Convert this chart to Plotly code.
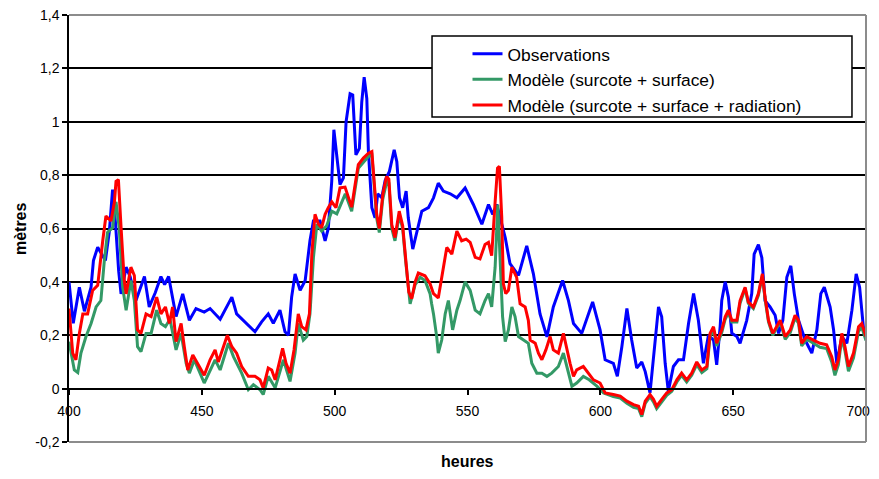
import plotly.graph_objects as go

# Observations (heures, metres)
obs_h = [400.0, 401.6, 403.9, 405.8, 408.3, 409.2, 410.8, 413.7, 415.2, 416.4, 417.5, 418.7, 419.6,
         420.5, 421.5, 423.0, 425.2, 428.4, 430.2, 432.5, 434.6, 436.0, 437.5, 440.3, 442.8, 445.3,
         447.8, 450.9, 453.1, 456.9, 461.3, 463.1, 465.6, 470.0, 472.5, 475.0, 476.9, 479.4, 481.3,
         482.6, 483.8, 485.1, 487.0, 488.9, 490.7, 492.0, 494.5, 496.4, 497.6, 498.9, 499.7, 501.2,
         502.0, 503.3, 504.3, 505.8, 506.8, 508.0, 509.3, 510.2, 511.1, 512.1, 512.7, 514.0, 515.2,
         516.2, 517.7, 519.0, 520.6, 522.4, 523.4, 524.4, 525.6, 526.9, 527.7, 529.4, 530.9, 532.8,
         535.3, 537.2, 539.0, 540.9, 543.5, 546.0, 549.1, 552.2, 555.4, 557.9, 559.5, 561.0, 562.3,
         564.2, 566.0, 569.2, 572.3, 574.8, 577.3, 579.9, 582.3, 585.8, 588.0, 589.9, 593.0, 597.1,
         599.9, 601.8, 604.9, 606.4, 608.1, 610.0, 611.8, 613.7, 615.6, 616.9, 618.7, 620.0, 621.9,
         623.1, 624.4, 625.6, 627.5, 629.4, 631.3, 633.2, 635.1, 636.9, 638.8, 640.7, 642.6, 643.8,
         645.1, 645.7, 647.0, 648.2, 649.5, 651.4, 652.6, 655.1, 657.0, 657.9, 659.5, 660.8, 662.0,
         663.9, 665.8, 667.1, 668.7, 670.2, 671.7, 673.0, 674.6, 677.1, 679.6, 681.5, 683.0, 684.3,
         686.5, 687.8, 689.0, 690.9, 692.8, 694.7, 696.3, 697.6, 699.1, 700.0]
obs_v = [0.40, 0.245, 0.38, 0.29, 0.38, 0.48, 0.53, 0.48, 0.59, 0.746, 0.62, 0.44, 0.355,
         0.40, 0.455, 0.42, 0.33, 0.42, 0.306, 0.36, 0.42, 0.39, 0.42, 0.27, 0.355, 0.256,
         0.30, 0.287, 0.30, 0.26, 0.343, 0.28, 0.256, 0.213, 0.25, 0.28, 0.245, 0.294, 0.213,
         0.20, 0.343, 0.43, 0.368, 0.405, 0.554, 0.628, 0.628, 0.554, 0.60, 0.777, 0.97, 0.84,
         0.765, 0.79, 1.0, 1.105, 1.10, 0.876, 0.90, 1.074, 1.167, 1.087, 0.888, 0.678, 0.64,
         0.73, 0.715, 0.78, 0.814, 0.895, 0.85, 0.715, 0.678, 0.74, 0.64, 0.523, 0.59, 0.665,
         0.678, 0.715, 0.77, 0.74, 0.73, 0.715, 0.752, 0.69, 0.616, 0.69, 0.653, 0.69, 0.64,
         0.566, 0.468, 0.424, 0.535, 0.43, 0.28, 0.194, 0.306, 0.405, 0.33, 0.244, 0.207, 0.325,
         0.22, 0.108, 0.095, 0.046, 0.157, 0.30, 0.182, 0.077, 0.10, 0.064, -0.016, 0.12, 0.306,
         0.269, 0.095, -0.01, 0.083, 0.108, 0.108, 0.244, 0.356, 0.256, 0.095, 0.20, 0.182, 0.089,
         0.232, 0.33, 0.40, 0.343, 0.207, 0.195, 0.17, 0.256, 0.356, 0.504, 0.54, 0.49, 0.33,
         0.306, 0.275, 0.207, 0.256, 0.417, 0.46, 0.356, 0.256, 0.182, 0.133, 0.22, 0.356, 0.38,
         0.306, 0.22, 0.095, 0.195, 0.17, 0.294, 0.43, 0.38, 0.22, 0.21]

# Modele (surcote + surface)
surf_h = [400.0, 402.0, 403.3, 404.5, 406.4, 408.3, 410.2, 412.0, 413.3, 414.5, 416.4, 417.7, 418.9,
          420.2, 421.5, 423.3, 424.6, 425.8, 427.1, 429.0, 430.9, 433.0, 434.6, 436.3, 438.0, 440.3,
          442.2, 444.1, 445.3, 447.2, 448.8, 450.9, 455.0, 456.9, 460.0, 461.9, 465.0, 467.5, 469.4,
          471.9, 473.1, 475.0, 477.6, 479.4, 480.7, 483.2, 485.1, 486.3, 488.2, 489.5, 490.7, 492.0,
          493.3, 495.1, 497.0, 498.9, 500.8, 504.0, 506.4, 508.9, 510.8, 512.7, 514.0, 514.8, 515.8,
          516.8, 518.1, 519.7, 520.4, 521.5, 522.7, 524.3, 525.6, 526.7, 528.4, 530.3, 532.2, 534.0,
          535.9, 536.5, 537.2, 538.4, 539.0, 540.3, 541.6, 542.8, 544.4, 546.0, 547.2, 549.1, 551.0,
          552.9, 554.7, 556.6, 557.9, 559.1, 560.4, 561.4, 562.3, 563.2, 564.2, 565.4, 566.7, 567.9,
          569.2, 571.1, 572.9, 574.2, 576.1, 578.0, 579.9, 581.7, 584.2, 586.1, 587.4, 589.3, 591.1,
          593.6, 595.8, 598.7, 601.2, 604.9, 607.5, 610.0, 612.5, 614.4, 615.6, 616.9, 618.7, 620.0,
          621.2, 623.1, 625.0, 626.9, 628.8, 630.6, 632.5, 634.4, 636.3, 638.2, 640.1, 641.3, 642.6,
          643.8, 645.7, 647.0, 648.2, 649.5, 651.4, 652.6, 654.5, 655.7, 657.6, 659.5, 661.0, 662.0,
          663.3, 664.9, 666.4, 667.7, 669.6, 671.5, 673.3, 674.6, 675.8, 677.7, 680.2, 682.7, 685.2,
          687.1, 688.3, 689.6, 690.9, 692.1, 693.4, 695.3, 697.2, 698.4, 700.0]
surf_v = [0.176, 0.07, 0.06, 0.133, 0.195, 0.244, 0.306, 0.33, 0.48, 0.585, 0.603, 0.70, 0.603,
          0.38, 0.294, 0.405, 0.33, 0.157, 0.139, 0.207, 0.207, 0.294, 0.244, 0.232, 0.26, 0.145,
          0.207, 0.095, 0.058, 0.108, 0.07, 0.021, 0.108, 0.07, 0.17, 0.12, 0.058, -0.004, 0.015,
          -0.004, -0.022, 0.046, 0.003, 0.07, 0.108, 0.027, 0.133, 0.244, 0.182, 0.195, 0.28, 0.49,
          0.616, 0.59, 0.61, 0.665, 0.655, 0.73, 0.665, 0.826, 0.85, 0.87, 0.876, 0.78, 0.64,
          0.585, 0.71, 0.78, 0.77, 0.60, 0.554, 0.65, 0.60, 0.48, 0.318, 0.39, 0.417, 0.405,
          0.356, 0.318, 0.28, 0.195, 0.133, 0.182, 0.28, 0.33, 0.22, 0.294, 0.33, 0.40, 0.368,
          0.294, 0.28, 0.33, 0.356, 0.306, 0.455, 0.69, 0.455, 0.27, 0.176, 0.22, 0.306, 0.27,
          0.195, 0.182, 0.17, 0.095, 0.058, 0.058, 0.046, 0.058, 0.083, 0.133, 0.083, 0.009, 0.021,
          0.046, 0.033, 0.009, -0.016, -0.03, -0.035, -0.055, -0.07, -0.075, -0.105, -0.055, -0.03, -0.05,
          -0.075, -0.05, -0.025, -0.01, 0.025, 0.05, 0.025, 0.05, 0.09, 0.06, 0.075, 0.195, 0.22,
          0.16, 0.21, 0.26, 0.285, 0.25, 0.25, 0.32, 0.375, 0.32, 0.30, 0.35, 0.425, 0.335,
          0.25, 0.20, 0.225, 0.25, 0.185, 0.21, 0.265, 0.245, 0.16, 0.185, 0.17, 0.155, 0.15,
          0.10, 0.05, 0.09, 0.19, 0.14, 0.065, 0.115, 0.215, 0.23, 0.18]

# Modele (surcote + surface + radiation)
rad_h = [400.0, 401.4, 402.6, 403.9, 405.2, 407.0, 408.9, 410.8, 412.7, 413.9, 415.8, 417.1, 417.7,
         418.6, 419.6, 420.8, 421.5, 423.3, 424.6, 425.8, 427.1, 429.0, 430.9, 433.0, 434.6, 436.3,
         437.8, 439.0, 440.3, 442.2, 443.4, 444.7, 446.6, 448.4, 450.9, 453.1, 455.0, 456.2, 458.1,
         459.6, 461.3, 463.1, 465.0, 467.5, 470.0, 471.9, 473.1, 475.0, 476.3, 477.6, 479.4, 480.4,
         481.7, 483.2, 484.7, 486.3, 487.6, 489.2, 490.5, 491.4, 492.6, 493.9, 495.1, 496.4, 497.6,
         498.9, 500.5, 502.0, 503.9, 505.1, 506.4, 507.7, 508.9, 510.8, 512.7, 514.0, 514.8, 515.8,
         516.8, 518.1, 519.5, 520.4, 521.5, 522.7, 524.3, 525.6, 526.7, 527.9, 529.0, 530.3, 531.5,
         534.0, 535.9, 537.2, 539.0, 540.9, 542.2, 544.1, 546.0, 547.8, 549.5, 551.0, 552.9, 554.7,
         556.6, 557.9, 559.1, 560.4, 561.3, 562.0, 562.9, 563.5, 564.4, 565.4, 566.7, 568.5, 569.8,
         571.7, 572.9, 573.6, 575.5, 576.7, 578.0, 579.5, 581.1, 582.3, 584.2, 586.1, 587.4, 588.6,
         589.9, 591.1, 593.6, 595.5, 597.4, 599.9, 601.8, 604.9, 607.5, 610.0, 612.5, 614.4, 615.6,
         616.9, 618.7, 620.0, 621.2, 623.1, 625.0, 626.9, 628.8, 630.6, 632.5, 634.4, 636.3, 638.2,
         640.1, 641.3, 642.6, 643.8, 645.7, 647.0, 648.2, 649.5, 651.4, 652.6, 654.5, 655.7, 657.6,
         659.5, 661.0, 662.0, 663.3, 664.9, 666.4, 667.7, 669.6, 671.5, 673.3, 674.6, 675.8, 677.7,
         680.2, 682.7, 685.2, 687.1, 688.3, 689.6, 690.9, 692.1, 693.4, 695.3, 697.2, 698.4, 700.0]
rad_v = [0.30, 0.133, 0.108, 0.207, 0.28, 0.28, 0.368, 0.387, 0.554, 0.647, 0.628, 0.70, 0.777,
         0.783, 0.603, 0.405, 0.355, 0.455, 0.424, 0.22, 0.207, 0.28, 0.27, 0.343, 0.28, 0.306,
         0.244, 0.306, 0.176, 0.244, 0.157, 0.07, 0.126, 0.095, 0.05, 0.108, 0.145, 0.10, 0.157,
         0.20, 0.157, 0.133, 0.083, 0.046, 0.046, 0.033, 0.003, 0.077, 0.07, 0.033, 0.108, 0.151,
         0.095, 0.058, 0.145, 0.28, 0.232, 0.22, 0.28, 0.504, 0.653, 0.616, 0.603, 0.653, 0.678,
         0.70, 0.678, 0.752, 0.755, 0.715, 0.68, 0.765, 0.839, 0.864, 0.882, 0.888, 0.79, 0.655,
         0.60, 0.727, 0.795, 0.785, 0.615, 0.566, 0.665, 0.61, 0.49, 0.362, 0.337, 0.40, 0.433,
         0.423, 0.393, 0.356, 0.34, 0.455, 0.529, 0.504, 0.59, 0.554, 0.56, 0.548, 0.492, 0.486,
         0.54, 0.548, 0.498, 0.70, 0.826, 0.833, 0.64, 0.393, 0.356, 0.368, 0.455, 0.417, 0.318,
         0.306, 0.256, 0.182, 0.17, 0.133, 0.108, 0.145, 0.195, 0.145, 0.133, 0.207, 0.145, 0.095,
         0.046, 0.07, 0.083, 0.058, 0.033, 0.021, -0.016, -0.022, -0.028, -0.047, -0.06, -0.066, -0.097,
         -0.047, -0.022, -0.04, -0.066, -0.04, -0.016, -0.004, 0.033, 0.058, 0.033, 0.058, 0.10, 0.07,
         0.083, 0.207, 0.232, 0.17, 0.22, 0.269, 0.294, 0.256, 0.256, 0.33, 0.38, 0.325, 0.306,
         0.356, 0.43, 0.343, 0.256, 0.207, 0.232, 0.256, 0.195, 0.22, 0.275, 0.256, 0.17, 0.195,
         0.182, 0.17, 0.164, 0.12, 0.07, 0.108, 0.207, 0.157, 0.083, 0.133, 0.232, 0.244, 0.195]

# axis ticks
y_ticks = [-0.2, 0, 0.2, 0.4, 0.6, 0.8, 1, 1.2, 1.4]
y_labels = ["-0,2", "0", "0,2", "0,4", "0,6", "0,8", "1", "1,2", "1,4"]
x_ticks = [400, 450, 500, 550, 600, 650, 700]
# last label padded so it is not cut at the right edge of the page
x_labels = ["400", "450", "500", "550", "600", "650", "700\u00a0\u00a0\u00a0\u00a0"]

font = "Liberation Sans, Arial, sans-serif"

fig = go.Figure()
fig.add_trace(go.Scatter(x=obs_h, y=obs_v, mode="lines", name="Observations",
                         line=dict(color="#0000ff", width=3), legendgroup="a"))
fig.add_trace(go.Scatter(x=surf_h, y=surf_v, mode="lines", name="Modèle (surcote + surface)",
                         line=dict(color="#339966", width=3), legendgroup="b"))
fig.add_trace(go.Scatter(x=rad_h, y=rad_v, mode="lines", name="Modèle (surcote + surface + radiation)",
                         line=dict(color="#ff0000", width=3), legendgroup="c"))

# the page adds an 8px body margin, so the figure sits 8px in from the top-left
fig.update_layout(
    width=871, height=463,
    margin=dict(l=61, r=13, t=7, b=29, autoexpand=False),
    paper_bgcolor="white", plot_bgcolor="white",
    font=dict(family=font, size=14, color="black"),
    showlegend=True,
    legend=dict(x=0.5, y=0.951, xanchor="left", yanchor="top",
                bgcolor="rgba(0,0,0,0)", borderwidth=0,
                font=dict(size=17.4), tracegroupgap=0),
    shapes=[
        # legend frame
        dict(type="rect", xref="paper", yref="paper", x0=0.4555, x1=0.9824, y0=0.7611, y1=0.9508,
             line=dict(color="black", width=1.5), fillcolor="white", layer="above"),
        # plot frame (top, right, bottom)
        dict(type="line", xref="paper", yref="paper", x0=0, x1=1, y0=1, y1=1,
             line=dict(color="#8c8c8c", width=2), layer="above"),
        dict(type="line", xref="paper", yref="paper", x0=1, x1=1, y0=0, y1=1,
             line=dict(color="#8c8c8c", width=2), layer="above"),
        dict(type="line", xref="paper", yref="paper", x0=0, x1=1, y0=0, y1=0,
             line=dict(color="#8c8c8c", width=2), layer="above"),
    ],
    annotations=[
        dict(text="<b>heures</b>", xref="paper", yref="paper", x=0.5, y=-0.0468,
             showarrow=False, xanchor="center", yanchor="middle", font=dict(size=16)),
        dict(text="<b>mètres</b>", xref="paper", yref="paper", x=-0.0615, y=0.501,
             showarrow=False, xanchor="center", yanchor="middle", textangle=-90,
             font=dict(size=16)),
    ],
)

fig.update_xaxes(range=[400, 700], tickvals=x_ticks, ticktext=x_labels, anchor="free",
                 position=0.1241, automargin=False,
                 showgrid=False, zeroline=False, showline=True, linecolor="black", linewidth=1.5,
                 ticks="outside", ticklen=5, tickwidth=1.5, tickcolor="black",
                 ticklabelstandoff=4, ticklabeloverflow="allow", tickfont=dict(size=14))
fig.update_yaxes(range=[-0.2, 1.4], tickvals=y_ticks, ticktext=y_labels, automargin=False,
                 showgrid=True, gridcolor="black", gridwidth=1.5, zeroline=False,
                 showline=True, linecolor="black", linewidth=1.5,
                 ticks="outside", ticklen=5, tickwidth=1.5, tickcolor="black",
                 ticklabeloverflow="allow", tickfont=dict(size=14))

fig.write_html("out.html")
